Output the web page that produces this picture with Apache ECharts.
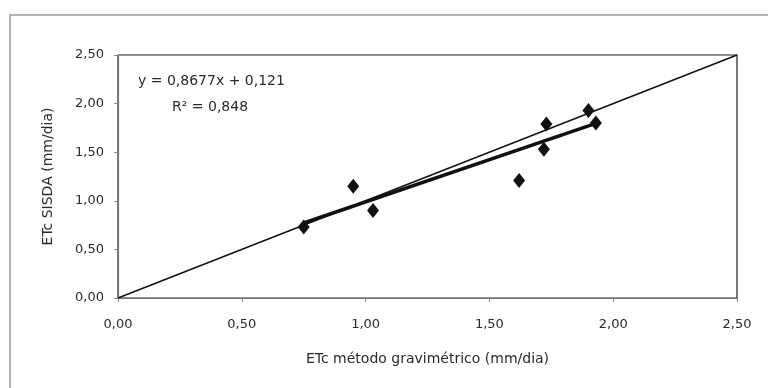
<!DOCTYPE html>
<html>
<head>
<meta charset="utf-8">
<script src="https://cdn.jsdelivr.net/npm/echarts@6/dist/echarts.min.js"></script>
<style>
  html, body { margin: 0; padding: 0; background: #ffffff; }
  #chart { width: 768px; height: 388px; }
</style>
</head>
<body>
<div id="chart"></div>
<script>
// Measured evapotranspiration: gravimetric method (x) vs SISDA estimate (y), mm/dia
const etcGravimetrico = [0.75, 0.95, 1.03, 1.62, 1.72, 1.73, 1.90, 1.93];
const etcSisda        = [0.73, 1.15, 0.90, 1.21, 1.53, 1.79, 1.93, 1.80];

// Linear regression reported on the chart
const slope = 0.8677;
const intercept = 0.121;
const equationLabel = 'y = 0,8677x + 0,121';
const r2Label = 'R² = 0,848';

// Axis setup
const axisMin = 0;
const axisMax = 2.5;
const axisStep = 0.5;
const xTitle = 'ETc método gravimétrico (mm/dia)';
const yTitle = 'ETc SISDA (mm/dia)';

const points = etcGravimetrico.map((x, i) => [x, etcSisda[i]]);
const xLo = Math.min(...etcGravimetrico);
const xHi = Math.max(...etcGravimetrico);
const trend = [[xLo, slope * xLo + intercept], [xHi, slope * xHi + intercept]];
const identity = [[axisMin, axisMin], [axisMax, axisMax]];

const fmt = v => v.toFixed(2).replace('.', ',');
const font = 'DejaVu Sans, Liberation Sans, Arial, sans-serif';

const chart = echarts.init(document.getElementById('chart'), null, { renderer: 'canvas' });
chart.setOption({
  animation: false,
  backgroundColor: '#ffffff',
  grid: { left: 118, right: 31, top: 55, bottom: 90, show: true, borderColor: '#222', borderWidth: 1.2, backgroundColor: 'transparent' },
  xAxis: {
    type: 'value', min: axisMin, max: axisMax, interval: axisStep,
    name: xTitle, nameLocation: 'middle', nameGap: 54,
    nameTextStyle: { fontFamily: font, fontSize: 14, color: '#2a2a2a' },
    axisLine: { show: true, lineStyle: { color: '#777', width: 1.2 } },
    axisTick: { show: true, length: 4, inside: false, lineStyle: { color: '#888' } },
    axisLabel: { formatter: fmt, fontFamily: font, fontSize: 13, color: '#2a2a2a', margin: 20 },
    splitLine: { show: false }
  },
  yAxis: {
    type: 'value', min: axisMin, max: axisMax, interval: axisStep,
    name: yTitle, nameLocation: 'middle', nameGap: 63, nameRotate: 90,
    nameTextStyle: { fontFamily: font, fontSize: 14, color: '#2a2a2a' },
    axisLine: { show: true, lineStyle: { color: '#777', width: 1.2 } },
    axisTick: { show: true, length: 4, lineStyle: { color: '#888' } },
    axisLabel: { formatter: fmt, fontFamily: font, fontSize: 13, color: '#2a2a2a', margin: 14 },
    splitLine: { show: false }
  },
  series: [
    {
      name: '1:1', type: 'line', data: identity, symbol: 'none',
      lineStyle: { color: '#111', width: 1.5 }, z: 2
    },
    {
      name: 'Regressão', type: 'line', data: trend, symbol: 'none',
      lineStyle: { color: '#111', width: 3.5 }, z: 3
    },
    {
      name: 'ETc', type: 'scatter', data: points, symbol: 'diamond', symbolSize: [12, 15],
      itemStyle: { color: '#111', opacity: 1 }, z: 4
    }
  ],
  graphic: [
    {
      type: 'polyline', z: -1, silent: true,
      shape: { points: [[10, 388], [10, 15], [768, 15]] },
      style: { fill: 'none', stroke: '#999', lineWidth: 1.5 }
    },
    {
      type: 'text', left: 138, top: 74,
      style: { text: equationLabel, font: '14px ' + font, fill: '#2a2a2a' }
    },
    {
      type: 'text', left: 172, top: 100,
      style: { text: r2Label, font: '14px ' + font, fill: '#2a2a2a' }
    }
  ]
});
</script>
</body>
</html>
